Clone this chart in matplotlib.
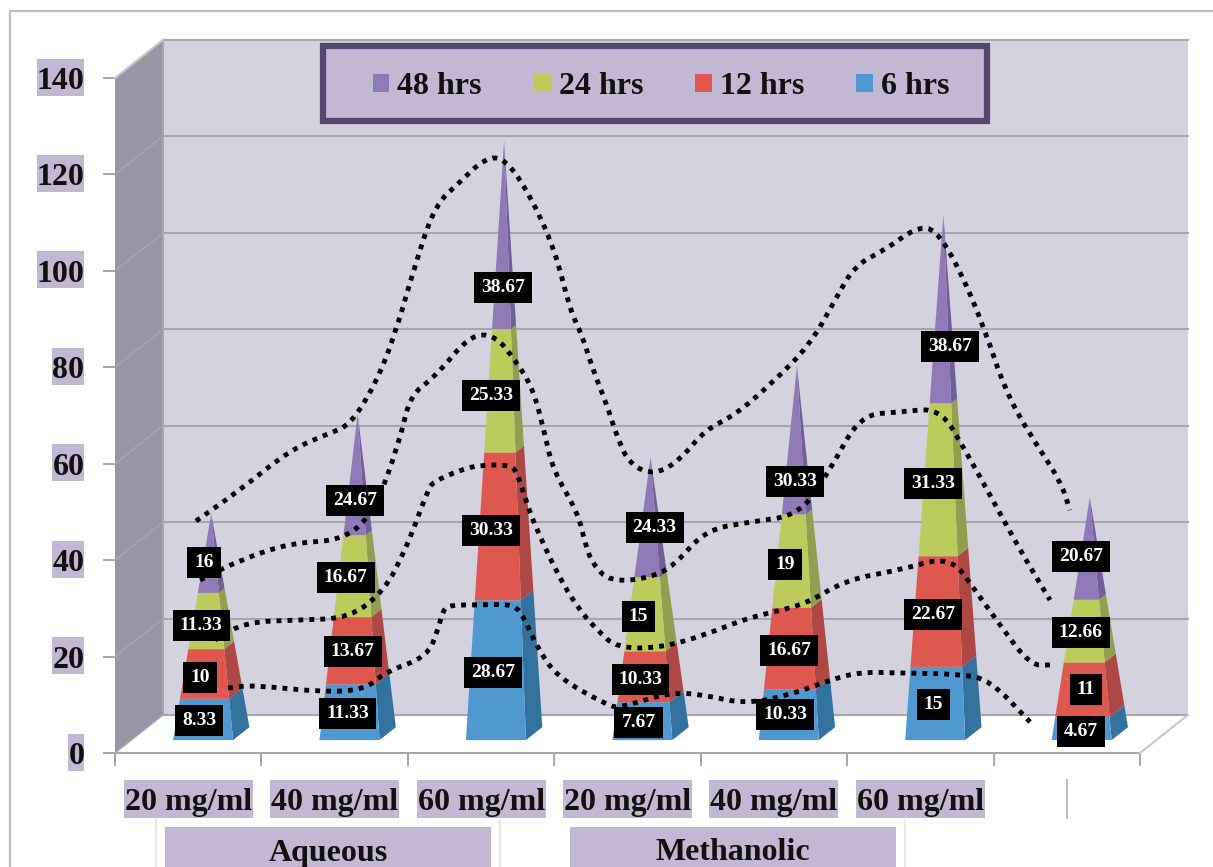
import matplotlib
matplotlib.use("Agg")
import matplotlib.pyplot as plt
from matplotlib.patches import Polygon, Rectangle, PathPatch, Patch
from matplotlib.path import Path
from matplotlib.lines import Line2D
from matplotlib.transforms import Affine2D

# ---------- data ----------
doses = ["20 mg/ml", "40 mg/ml", "60 mg/ml", "20 mg/ml", "40 mg/ml", "60 mg/ml", ""]
groups = ["Aqueous", "Methanolic"]
series_names = ["6 hrs", "12 hrs", "24 hrs", "48 hrs"]
hrs_6 = [8.33, 11.33, 28.67, 7.67, 10.33, 15, 4.67]
hrs_12 = [10, 13.67, 30.33, 10.33, 16.67, 22.67, 11]
hrs_24 = [11.33, 16.67, 25.33, 15, 19, 31.33, 12.66]
hrs_48 = [16, 24.67, 38.67, 24.33, 30.33, 38.67, 20.67]
yticks = [0, 20, 40, 60, 80, 100, 120, 140]

# hand-drawn dotted overlays (pixel x, pixel y)
curve_top = [(196,521),(240,490),(290,450),(330,433),(350,425),(375,385),(395,335),(415,265),(435,205),
             (460,182),(485,158),(505,158),(530,195),(555,250),(570,310),(582,335),(593,370),(607,405),(617,437),(630,465),
             (655,475),(680,460),(705,430),(735,415),(770,385),(810,345),(835,300),(855,265),(885,250),
             (915,228),(935,228),(960,270),(985,330),(1005,390),(1030,435),(1060,480),(1070,510)]
curve_24 = [(200,580),(240,560),(290,543),(345,540),(375,510),(400,440),(410,395),(435,377),(470,335),
            (495,335),(515,360),(533,388),(545,435),(553,470),(578,513),(585,543),(592,563),(610,582),(650,578),(675,565),(705,530),
            (750,522),(800,515),(830,470),(860,415),(900,412),(940,408),(965,450),(990,495),(1020,550),(1050,600)]
curve_12 = [(215,640),(245,622),(300,620),(350,618),(385,590),(405,550),(415,525),(428,490),(433,482),(460,470),(480,465),(510,465),
            (517,472),(528,507),(537,530),(557,573),(577,607),(597,630),(617,648),(660,648),(705,635),(750,617),(805,605),(845,580),
            (900,570),(950,556),(975,590),(1000,625),(1030,665),(1050,665)]
curve_6 = [(228,688),(253,685),(320,692),(365,690),(385,672),(427,657),(438,630),(443,610),(450,605),(480,605),(515,604),
           (525,620),(537,647),(557,677),(607,705),(620,708),(670,692),(705,695),(745,704),(790,695),(830,680),(860,672),(900,673),
           (960,674),(990,680),(1030,722)]

# label nudges from the segment centre, in pixels (right, down)
nudge_x = [[-12,-11,-10,-7],[-10,-5,-12,-3],[-11,-13,-13,-1],[-12,-10,-12,4],[-12,-8,-12,-2],[-10,-10,-10,7],[-9,-4,-9,-9]]
nudge_y = [[7,8,8,10],[7,5,5,27],[8,8,7,54],[7,8,6,12],[6,7,7,43],[7,8,7,39],[9,5,5,9]]

# ---------- styles ----------
W, H = 1213, 867
L, R, B, T = 115, 1140, 753, 78     # front plane of the chart, pixels
DX, DY = 48, 38                     # depth offset, pixels
face = ["#5099D0", "#DE5850", "#BBCC5C", "#8F79B6"]
side = ["#33719F", "#AE4845", "#939F50", "#705F99"]
WALL, LWALL, GRID = "#D5D2DF", "#9A95A5", "#A8A6AC"
BOX = "#C1B9D3"
SERIF = "Liberation Serif"

fig = plt.figure(figsize=(W/100, H/100), dpi=100, facecolor="white")
ax = fig.add_axes([L/W, 1-B/H, (R-L)/W, (B-T)/H])
ax.set_xlim(0, 7)
ax.set_ylim(0, 140)
ax.patch.set_visible(False)
for s in ax.spines.values():
    s.set_visible(False)

pixel = Affine2D().scale(1, -1).translate(0, H)      # top-left pixel coordinates
cat_px = (R-L)/7
val_px = (B-T)/140

def proj(x, v, d):
    return (x + d*DX/cat_px, v + d*DY/val_px)

def from_px(p):
    return ((p[0]-L)/cat_px, (B-p[1])/val_px)

def poly(pts, fc, ec="none", z=1, lw=0):
    ax.add_patch(Polygon(pts, closed=True, fc=fc, ec=ec, lw=lw, zorder=z, clip_on=False))

def seg(a, b, z=2, c=GRID, lw=1.5):
    ax.add_line(Line2D([a[0], b[0]], [a[1], b[1]], color=c, lw=lw, zorder=z, clip_on=False))

# outer frame and group rectangles, in pixel coordinates
fig.add_artist(Line2D([10, 10, W], [H, 11, 11], transform=pixel, color="#BDBDBD", lw=1.6))
for x0, x1, name in [(165, 491, groups[0]), (570, 896, groups[1])]:
    fig.add_artist(Rectangle((x0, 827), x1-x0, 45, transform=pixel, fc=BOX, ec="none"))
    fig.text((x0+x1)/2/W, 1-853/H, name, family=SERIF, weight="bold", size=23, ha="center", va="center", color="#111111")
for x in [156, 500, 905]:
    fig.add_artist(Line2D([x, x], [820, H], transform=pixel, color="#E8E8E8", lw=1.5))

# walls and floor
poly([proj(0,0,1), proj(7,0,1), proj(7,140,1), proj(0,140,1)], WALL, z=1)
poly([proj(0,0,0), proj(0,0,1), proj(0,140,1), proj(0,140,0)], LWALL, z=1)
poly([proj(0,0,0), proj(7,0,0), proj(7,0,1), proj(0,0,1)], "white", z=1)
for t in yticks:
    seg(proj(0,t,1), proj(7,t,1))
    seg(proj(0,t,0), proj(0,t,1), c="#A8A5AE", lw=1.0)
seg(proj(0,0,1), proj(0,140,1))
seg(proj(0,0,0), proj(7,0,0))
seg(proj(7,0,0), proj(7,0,1), c="#C8C8C8")
seg(proj(0,140,0), proj(0,140,1), c="#C8C8C8")

# pyramids
BX0, BX1, D0, D1, CX = 0.285, 0.695, 0.34, 0.68, 0.49
stack = list(zip(hrs_6, hrs_12, hrs_24, hrs_48))
for i, vals in enumerate(stack):
    total = sum(vals)
    apex = proj(i+CX, total, (D0+D1)/2)
    fl, fr, br = proj(i+BX0, 0, D0), proj(i+BX1, 0, D0), proj(i+BX1, 0, D1)
    lerp = lambda p, f: (p[0]+(apex[0]-p[0])*f, p[1]+(apex[1]-p[1])*f)
    cum = 0
    for k, v in enumerate(vals):
        f0, f1 = cum/total, (cum+v)/total
        poly([lerp(fr,f0), lerp(br,f0), lerp(br,f1), lerp(fr,f1)], side[k], z=3)
        poly([lerp(fl,f0), lerp(fr,f0), lerp(fr,f1), lerp(fl,f1)], face[k], z=3)
        mid = proj(i+CX, cum+v/2, (D0+D1)/2)
        ax.annotate(f"{v:g}", xy=mid, xytext=(nudge_x[i][k], -nudge_y[i][k]), textcoords="offset pixels",
                    ha="center", va="center", family=SERIF, weight="bold", size=14, color="white", zorder=6,
                    annotation_clip=False,
                    bbox=dict(boxstyle="square,pad=0.36", fc="black", ec="none"))
        cum += v

# dotted overlay curves (quadratic smoothing through midpoints)
for curve in [curve_top, curve_24, curve_12, curve_6]:
    pts = [from_px(p) for p in curve]
    verts, codes = [pts[0]], [Path.MOVETO]
    for a, b in zip(pts[:-1], pts[1:]):
        verts += [a, ((a[0]+b[0])/2, (a[1]+b[1])/2)]
        codes += [Path.CURVE3, Path.CURVE3]
    verts += [pts[-1]]
    codes += [Path.LINETO]
    ax.add_patch(PathPatch(Path(verts, codes), fc="none", ec="black", lw=3.5, ls=(0, (1, 1.25)),
                           capstyle="butt", zorder=5, clip_on=False))

# axes: ticks and tick labels
ax.set_yticks(yticks)
ax.set_yticklabels([str(t) for t in yticks], family=SERIF, weight="bold", size=23, color="#111111")
ax.tick_params(axis="y", length=9, width=1.4, color="#A6A6A6", pad=13)
ax.set_xticks(range(8))
ax.set_xticklabels([])
ax.tick_params(axis="x", which="major", length=9, width=1.4, color="#A6A6A6")
ax.set_xticks([i+0.5 for i in range(6)], minor=True)
ax.set_xticklabels(doses[:6], minor=True, family=SERIF, weight="bold", size=23, color="#111111")
ax.tick_params(axis="x", which="minor", length=0, pad=25)
ax.add_line(Line2D([6.5, 6.5], [-27/val_px, -65/val_px], color=BOX, lw=1.5, clip_on=False))

# tall lilac plates behind the tick labels, sized from the rendered label widths
fig.canvas.draw()
rend = fig.canvas.get_renderer()
for lab, t in zip(ax.get_yticklabels(), yticks):
    e = lab.get_window_extent(rend)
    yc = B - t*val_px - 1
    fig.add_artist(Rectangle((e.x0, yc-18.5), e.width, 37, transform=pixel, fc=BOX, ec="none", zorder=-1))
for lab in ax.get_xticklabels(minor=True):
    e = lab.get_window_extent(rend)
    fig.add_artist(Rectangle((e.x0-1, B+27), e.width+2, 38, transform=pixel, fc=BOX, ec="none", zorder=-1))

# legend: plate plus unframed entries
ax.add_patch(Rectangle((323, 46), 664, 75, transform=pixel, fc=BOX, ec="#544873", lw=4.5, zorder=6.5, clip_on=False))
handles = [Patch(fc=face[k], ec="none", label=series_names[k]) for k in [3, 2, 1, 0]]
leg = ax.legend(handles=handles, ncol=4, loc="center", bbox_to_anchor=(661/W, 1-87/H), bbox_transform=fig.transFigure,
                prop=dict(family=SERIF, weight="bold", size=23), handlelength=0.52, handleheight=0.52, handletextpad=0.25,
                columnspacing=1.63, borderpad=0, borderaxespad=0, frameon=False, labelcolor="#111111")
leg.set_zorder(7)

fig.savefig("out.png", dpi=100)
